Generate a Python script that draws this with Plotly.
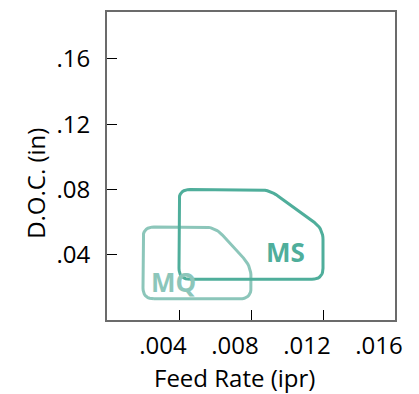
import numpy as np
import plotly.graph_objects as go

# zone outlines (feed rate ipr, depth of cut in)
ms_feed = [0.004, 0.004, 0.009, 0.012, 0.012]
ms_doc = [0.025, 0.080, 0.080, 0.056, 0.025]
mq_feed = [0.002, 0.002, 0.006, 0.008, 0.008]
mq_doc = [0.013, 0.057, 0.057, 0.033, 0.013]

x_ticks = [0.004, 0.008, 0.012, 0.016]
x_labels = ['.004', '.008', '.012', '.016']
y_ticks = [0.04, 0.08, 0.12, 0.16]
y_labels = ['.04', '.08', '.12', '.16']

x_range = [0, 0.016]
y_range = [0, 0.1888]

# page body adds 8px around the figure
W, H = 411, 386
margin = dict(l=99, r=24, t=2, b=74)
sx = (W - margin['l'] - margin['r']) / (x_range[1] - x_range[0])
sy = (H - margin['t'] - margin['b']) / (y_range[1] - y_range[0])


def rounded(xs, ys, r=11, n=10):
    # round the corners of a closed polygon, working in pixel space
    pts = np.column_stack([np.array(xs) * sx, np.array(ys) * sy])
    out = []
    k = len(pts)
    for i in range(k):
        p0, p1, p2 = pts[i - 1], pts[i], pts[(i + 1) % k]
        d1 = (p0 - p1) / np.linalg.norm(p0 - p1)
        d2 = (p2 - p1) / np.linalg.norm(p2 - p1)
        a = p1 + d1 * r
        b = p1 + d2 * r
        for t in np.linspace(0, 1, n):
            out.append((1 - t) ** 2 * a + 2 * (1 - t) * t * p1 + t ** 2 * b)
    out.append(out[0])
    out = np.array(out)
    return out[:, 0] / sx, out[:, 1] / sy


fig = go.Figure()

mq_x, mq_y = rounded(mq_feed, mq_doc)
ms_x, ms_y = rounded(ms_feed, ms_doc)

fig.add_trace(go.Scatter(x=mq_x, y=mq_y, mode='lines',
                         line=dict(color='#8cc6ba', width=3), hoverinfo='skip'))
fig.add_trace(go.Scatter(x=ms_x, y=ms_y, mode='lines',
                         line=dict(color='#4fae9b', width=3), hoverinfo='skip'))

fig.add_annotation(x=0.0099, y=0.0415, text='<b>MS</b>', showarrow=False,
                   font=dict(family='Open Sans', size=26, color='#4fae9b'))
fig.add_annotation(x=0.0037, y=0.0235, text='<b>MQ</b>', showarrow=False,
                   font=dict(family='Open Sans', size=26, color='#8cc6ba'))

title_font = dict(family='Open Sans', size=24, color='black')
# axis titles sit a little off-centre in the original, so place them by hand
fig.add_annotation(xref='paper', yref='paper', x=0.444, y=-0.187,
                   text='Feed Rate (ipr)', showarrow=False, font=title_font,
                   xanchor='center', yanchor='middle')
fig.add_annotation(xref='paper', yref='paper', x=-0.2465, y=0.442,
                   text='D.O.C. (in)', showarrow=False, font=title_font,
                   textangle=-90, xanchor='center', yanchor='middle')

axis_style = dict(showgrid=False, zeroline=False, showline=True, mirror=True,
                  linecolor='#6b6b6b', linewidth=2, ticks='inside', ticklen=10,
                  tickcolor='black', tickwidth=1,
                  tickfont=dict(family='Open Sans', size=24, color='black'))

fig.update_layout(
    width=W, height=H, margin=margin,
    plot_bgcolor='white', paper_bgcolor='white',
    showlegend=False,
    xaxis=dict(axis_style, range=x_range, tickvals=x_ticks, ticktext=x_labels,
               ticklabelshift=-16, ticklabelstandoff=3),
    yaxis=dict(axis_style, range=y_range, tickvals=y_ticks, ticktext=y_labels,
               ticklabelstandoff=10),
)

fig.write_html("out.html")
